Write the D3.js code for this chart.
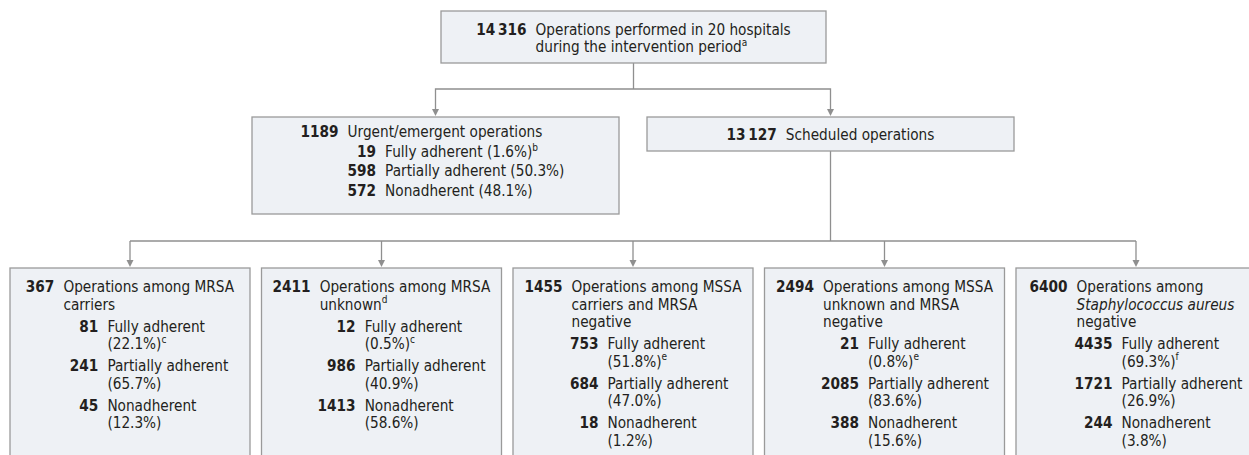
<!DOCTYPE html>
<html>
<head>
<meta charset="utf-8">
<script src="https://cdn.jsdelivr.net/npm/d3@7"></script>
<style>
  body { margin: 0; background: #fff; }
  svg text { fill: #231f20; font-stretch: condensed; }
</style>
</head>
<body>
<svg id="chart" width="1249" height="455"></svg>
<script>
// ---- data ----
var totalCount = "14\u2009316";
var totalLines = ["Operations performed in 20 hospitals", "during the intervention period"];
var totalNote = "a";

var splitCounts = ["1189", "13\u2009127"];
var splitLabels = ["Urgent/emergent operations", "Scheduled operations"];

var urgentCounts = ["19", "598", "572"];
var urgentLabels = ["Fully adherent (1.6%)", "Partially adherent (50.3%)", "Nonadherent (48.1%)"];
var urgentNotes = ["b", "", ""];

var groupCounts = ["367", "2411", "1455", "2494", "6400"];
var groupLabels = [
  ["Operations among MRSA", "carriers"],
  ["Operations among MRSA", "unknown"],
  ["Operations among MSSA", "carriers and MRSA", "negative"],
  ["Operations among MSSA", "unknown and MRSA", "negative"],
  ["Operations among", "Staphylococcus aureus", "negative"]
];
var groupNotes = ["", "d", "", "", ""];
var italicLine = [-1, -1, -1, -1, 1];

var fullyCounts = ["81", "12", "753", "21", "4435"];
var fullyPct = ["22.1", "0.5", "51.8", "0.8", "69.3"];
var fullyNotes = ["c", "c", "e", "e", "f"];
var partialCounts = ["241", "986", "684", "2085", "1721"];
var partialPct = ["65.7", "40.9", "47.0", "83.6", "26.9"];
var nonCounts = ["45", "1413", "18", "388", "244"];
var nonPct = ["12.3", "58.6", "1.2", "15.6", "3.8"];

// ---- layout ----
var svg = d3.select("#chart");
var FONT = "'DejaVu Sans Condensed', 'DejaVu Sans', sans-serif";
var lineCol = "#8f8f8f", boxFill = "#eef1f5", boxStroke = "#9a9a9a";

// fit the font size so a reference line has the width it has in the figure
var probe = svg.append("text").style("font-family", FONT).style("font-size", "16px").text("Operations among MRSA");
var fs = 16 * 171 / probe.node().getComputedTextLength();
probe.remove();

function measure(str, bold, italic) {
  var t = svg.append("text").style("font-family", FONT).style("font-size", fs + "px")
    .style("font-weight", bold ? 700 : 400).style("font-style", italic ? "italic" : "normal").text(str);
  var w = t.node().getComputedTextLength();
  t.remove();
  return w;
}

function addText(g, x, y, str, opt) {
  opt = opt || {};
  var t = g.append("text")
    .attr("x", x).attr("y", y)
    .attr("text-anchor", opt.anchor || "start")
    .style("font-family", FONT)
    .style("font-size", fs + "px")
    .style("font-weight", opt.bold ? 700 : 400)
    .style("font-style", opt.italic ? "italic" : "normal");
  t.append("tspan").text(str);
  if (opt.note) {
    t.append("tspan").attr("dy", -fs * 0.4).style("font-size", (fs * 0.66) + "px").text(opt.note);
  }
  return t;
}

var gapNum = 9;

// top box
var topBox = {x: 441, y: 11, w: 385, h: 52};
// second row boxes
var midX = d3.scaleBand().domain([0, 1]).range([252, 1014]).paddingInner(0.0709);
var midY = 117, midH = [97, 34];
// bottom boxes
var botX = d3.scaleBand().domain(d3.range(5)).range([10, 1256]).paddingInner(0.0457);
var botY = 268, botH = 200;
var subIndent = [35, 36, 27, 36, 36];

var links = svg.append("g").attr("fill", "none").attr("stroke", lineCol).attr("stroke-width", 1.3);
var heads = svg.append("g").attr("fill", lineCol);
function arrowHead(x, y) {
  heads.append("path").attr("d", "M" + (x - 3.5) + "," + (y - 7) + "L" + (x + 3.5) + "," + (y - 7) + "L" + x + "," + y + "Z");
}

// connectors: top -> split
var topCx = topBox.x + topBox.w / 2, joinY1 = 89;
links.append("path").attr("d", "M" + topCx + "," + (topBox.y + topBox.h) + "V" + joinY1);
var c0 = midX(0) + midX.bandwidth() / 2, c1 = midX(1) + midX.bandwidth() / 2;
links.append("path").attr("d", "M" + c0 + "," + (midY - 5) + "V" + joinY1 + "H" + c1 + "V" + (midY - 5));
arrowHead(c0, midY - 1);
arrowHead(c1, midY - 1);

// connectors: scheduled -> groups
var joinY2 = 241;
links.append("path").attr("d", "M" + c1 + "," + (midY + midH[1]) + "V" + joinY2);
var b0 = botX(0) + botX.bandwidth() / 2, b4 = botX(4) + botX.bandwidth() / 2;
links.append("path").attr("d", "M" + b0 + "," + joinY2 + "H" + b4);
d3.range(5).forEach(function (i) {
  var cx = botX(i) + botX.bandwidth() / 2;
  links.append("path").attr("d", "M" + cx + "," + joinY2 + "V" + (botY - 5));
  arrowHead(cx, botY - 1);
});

var boxes = svg.append("g");
function drawBox(x, y, w, h) {
  boxes.append("rect").attr("x", x).attr("y", y).attr("width", w).attr("height", h)
    .attr("fill", boxFill).attr("stroke", boxStroke).attr("stroke-width", 1.3);
}

// top box
drawBox(topBox.x, topBox.y, topBox.w, topBox.h);
(function () {
  var nw = measure(totalCount, true);
  var lw = d3.max(totalLines, function (s) { return measure(s); });
  var left = topCx - (nw + gapNum + lw) / 2;
  addText(svg, left + nw, topBox.y + 24, totalCount, {bold: true, anchor: "end"});
  totalLines.forEach(function (s, k) {
    addText(svg, left + nw + gapNum, topBox.y + 24 + k * 17, s, {note: k === totalLines.length - 1 ? totalNote : ""});
  });
})();

// urgent box
drawBox(midX(0), midY, midX.bandwidth(), midH[0]);
(function () {
  var nw = measure(splitCounts[0], true);
  var subW = d3.max(urgentCounts, function (s) { return measure(s, true); });
  var lw = Math.max(measure(splitLabels[0]), subW + gapNum + d3.max(urgentLabels, function (s) { return measure(s); }) + 6);
  var left = c0 - (nw + gapNum + lw) / 2;
  var lx = left + nw + gapNum, y0 = midY + 20, step = 19.6;
  addText(svg, left + nw, y0, splitCounts[0], {bold: true, anchor: "end"});
  addText(svg, lx, y0, splitLabels[0]);
  urgentCounts.forEach(function (n, k) {
    addText(svg, lx + subW, y0 + (k + 1) * step, n, {bold: true, anchor: "end"});
    addText(svg, lx + subW + gapNum, y0 + (k + 1) * step, urgentLabels[k], {note: urgentNotes[k]});
  });
})();

// scheduled box
drawBox(midX(1), midY, midX.bandwidth(), midH[1]);
(function () {
  var nw = measure(splitCounts[1], true);
  var lw = measure(splitLabels[1]);
  var left = c1 - (nw + gapNum + lw) / 2;
  addText(svg, left + nw, midY + 23, splitCounts[1], {bold: true, anchor: "end"});
  addText(svg, left + nw + gapNum, midY + 23, splitLabels[1]);
})();

// bottom boxes
var lineH = 17.5, groupGap = 4.5;
d3.range(5).forEach(function (i) {
  var bx = botX(i), bw = botX.bandwidth(), cx = bx + bw / 2;
  drawBox(bx, botY, bw, botH);
  var subs = [
    {n: fullyCounts[i], lines: ["Fully adherent", "(" + fullyPct[i] + "%)"], note: fullyNotes[i]},
    {n: partialCounts[i], lines: ["Partially adherent", "(" + partialPct[i] + "%)"], note: ""},
    {n: nonCounts[i], lines: ["Nonadherent", "(" + nonPct[i] + "%)"], note: ""}
  ];
  var nw = measure(groupCounts[i], true);
  var labW = d3.max(groupLabels[i], function (s, k) { return measure(s, false, k === italicLine[i]); });
  var subLabW = d3.max(subs, function (s) { return measure(s.lines[0]); });
  var lw = Math.max(labW, subIndent[i] + gapNum + subLabW);
  var left = cx - (nw + gapNum + lw) / 2;
  var lx = left + nw + gapNum;
  var y = botY + 24;
  var g = svg.append("g");
  addText(g, lx - gapNum, y, groupCounts[i], {bold: true, anchor: "end"});
  groupLabels[i].forEach(function (s, k) {
    addText(g, lx, y, s, {italic: k === italicLine[i], note: k === groupLabels[i].length - 1 ? groupNotes[i] : ""});
    y += lineH;
  });
  subs.forEach(function (s) {
    y += groupGap;
    addText(g, lx + subIndent[i], y, s.n, {bold: true, anchor: "end"});
    s.lines.forEach(function (str, k) {
      addText(g, lx + subIndent[i] + gapNum, y, str, {note: k === 1 ? s.note : ""});
      y += lineH;
    });
  });
});
</script>
</body>
</html>
